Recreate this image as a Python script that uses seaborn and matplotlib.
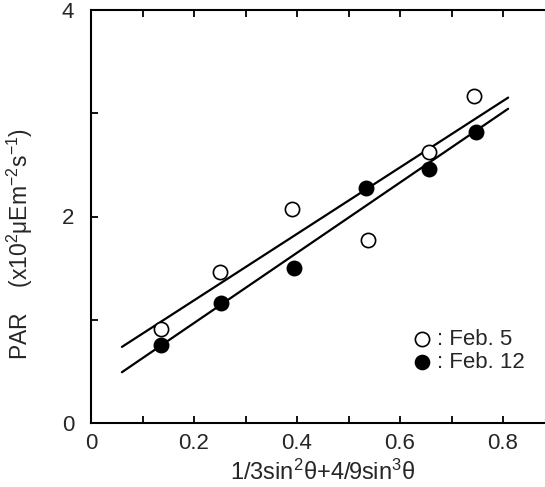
import numpy as np
import pandas as pd
import matplotlib
matplotlib.use("Agg")
import matplotlib.pyplot as plt
import seaborn as sns

# values
x_feb5 = [0.136, 0.250, 0.390, 0.538, 0.656, 0.744]
par_feb5 = [0.91, 1.46, 2.07, 1.77, 2.62, 3.17]
x_feb12 = [0.136, 0.252, 0.394, 0.534, 0.656, 0.748]
par_feb12 = [0.76, 1.16, 1.50, 2.28, 2.46, 2.82]
fit_range = [0.06, 0.81]

sns.set_style("ticks")
plt.rcParams['font.family'] = ['Liberation Sans', 'DejaVu Sans']
plt.rcParams['mathtext.fontset'] = 'custom'
plt.rcParams['mathtext.rm'] = 'Liberation Sans'
plt.rcParams['mathtext.it'] = 'Liberation Sans'

df5 = pd.DataFrame({'x': x_feb5, 'par': par_feb5})
df12 = pd.DataFrame({'x': x_feb12, 'par': par_feb12})

fig = plt.figure(figsize=(5.45, 4.87), dpi=100)
ax = fig.add_axes([91 / 545, 64 / 487, 463.5 / 545, 413 / 487])

# regression lines for each day
for d in (df5, df12):
    k, b = np.polyfit(d['x'], d['par'], 1)
    xs = np.array(fit_range)
    sns.lineplot(x=xs, y=k * xs + b, ax=ax, color='black', lw=1.6)

sns.scatterplot(data=df5, x='x', y='par', ax=ax, s=105, facecolor='white',
                edgecolor='black', linewidth=1.2, zorder=3)
sns.scatterplot(data=df12, x='x', y='par', ax=ax, s=105, color='black',
                edgecolor='black', linewidth=1.2, zorder=3)

ax.set_xlim(0, 0.9)
ax.set_ylim(0, 4)
ax.set_xticks(np.arange(0, 0.9, 0.1), minor=True)
ax.set_xticks([0, 0.2, 0.4, 0.6, 0.8])
ax.set_xticklabels(['0', '0.2', '0.4', '0.6', '0.8'])
ax.set_yticks([1, 3], minor=True)
ax.set_yticks([0, 2, 4])
ax.set_yticklabels(['0', '2', '4'])
ax.tick_params(which='both', direction='in', top=True, right=True,
               length=5, width=1.3, labelsize=16, color='black', pad=7)
ax.tick_params(axis='y', pad=12)
for s in ('left', 'bottom', 'top'):
    ax.spines[s].set_linewidth(1.5)
    ax.spines[s].set_color('black')
ax.spines['right'].set_visible(False)
ax.set_xlabel('')
ax.set_ylabel('')

fig.text(323 / 545, 1 - 472 / 487, r'1/3sin$^{2}$$\theta$+4/9sin$^{3}$$\theta$',
         ha='center', va='center', fontsize=17)
fig.text(20 / 545, 1 - 244 / 487,
         r'PAR    (x10$^{2}$$\mu$Em$^{-2}$s$^{-1}$)',
         rotation=90, ha='center', va='center', fontsize=16.5)

# legend drawn as markers + text
ax.scatter([0.643], [0.81], s=105, facecolor='white', edgecolor='black', lw=1.2,
           zorder=3)
ax.scatter([0.643], [0.59], s=105, color='black', zorder=3)
ax.text(0.672, 0.81, ': Feb. 5', va='center', ha='left', fontsize=16)
ax.text(0.672, 0.59, ': Feb. 12', va='center', ha='left', fontsize=16)

fig.savefig('out.png', dpi=100)
